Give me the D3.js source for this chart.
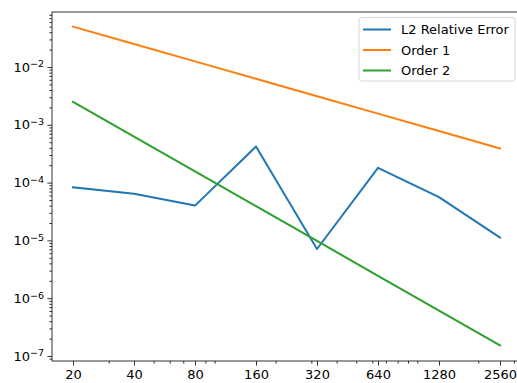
<!DOCTYPE html>
<html>
<head>
<meta charset="utf-8">
<script src="https://cdn.jsdelivr.net/npm/d3@7.9.0/dist/d3.min.js"></script>
<style>
  body { margin: 0; background: #fff; }
  svg { display: block; font-family: "DejaVu Sans", sans-serif; }
</style>
</head>
<body>
<svg id="chart" width="517" height="383"></svg>
<script>
// values
const gridSizes = [20, 40, 80, 160, 320, 640, 1280, 2560];
const l2Error = [8.3e-5, 6.4e-5, 4.0e-5, 4.2e-4, 7.1e-6, 1.8e-4, 5.6e-5, 1.12e-5];
const order1 = [0.05, 0.025, 0.0125, 0.00625, 0.003125, 0.0015625, 0.00078125, 0.000390625];
const order2 = [2.5e-3, 6.25e-4, 1.5625e-4, 3.90625e-5, 9.765625e-6, 2.44140625e-6, 6.1035e-7, 1.5259e-7];
const xTickLabels = ['20', '40', '80', '160', '320', '640', '1280', '2560'];
const yTickExps = [-7, -6, -5, -4, -3, -2];
const seriesNames = ['L2 Relative Error', 'Order 1', 'Order 2'];
const seriesColors = ['#1f77b4', '#ff7f0e', '#2ca02c'];

const axLeft = 52, axRight = 521, axTop = 12, axBottom = 361;
const svg = d3.select('#chart');

const x = d3.scaleLog().base(2).domain([15.75, 3250]).range([axLeft, axRight]);
const y = d3.scaleLog().domain([8.19e-8, 0.0895]).range([axBottom, axTop]);

// minor ticks, log10 style
let xMinor = [], yMinor = [];
for (let e = 1; e <= 3; e++) for (let m = 1; m <= 9; m++) {
    const v = m * Math.pow(10, e);
    if (v >= 15.75 && v <= 3250 && !gridSizes.includes(v)) xMinor.push(v);
}
for (let e = -8; e <= -2; e++) for (let m = 2; m <= 9; m++) {
    const v = m * Math.pow(10, e);
    if (v >= 8.19e-8 && v <= 0.0895) yMinor.push(v);
}

const xAxis = svg.append('g').attr('transform', `translate(0,${axBottom})`)
    .call(d3.axisBottom(x).tickValues(gridSizes).tickFormat((d, i) => xTickLabels[i])
        .tickSize(4.6).tickPadding(4));
svg.append('g').attr('transform', `translate(0,${axBottom})`)
    .call(d3.axisBottom(x).tickValues(xMinor).tickFormat('').tickSize(2.6))
    .call(g => g.select('.domain').remove());

const yAxis = svg.append('g').attr('transform', `translate(${axLeft},0)`)
    .call(d3.axisLeft(y).tickValues(yTickExps.map(e => Math.pow(10, e))).tickFormat('')
        .tickSize(4.6).tickPadding(4));
svg.append('g').attr('transform', `translate(${axLeft},0)`)
    .call(d3.axisLeft(y).tickValues(yMinor).tickFormat('').tickSize(2.6))
    .call(g => g.select('.domain').remove());

yAxis.selectAll('.tick').each(function(d, i) {
    const t = d3.select(this).select('text')
        .attr('x', -8).attr('dy', '0.32em').attr('text-anchor', 'end');
    t.append('tspan').text('10');
    t.append('tspan').attr('dy', '-0.45em').attr('font-size', '9.5px')
        .text('\u2212' + Math.abs(yTickExps[i]));
});

svg.selectAll('.tick text').attr('font-size', '13px').attr('fill', '#000')
    .attr('font-family', '"DejaVu Sans", sans-serif');
svg.selectAll('.tick line').attr('stroke', '#000').attr('stroke-width', 0.8);
svg.selectAll('.domain').remove();

// spines
svg.append('rect').attr('x', axLeft).attr('y', axTop)
    .attr('width', axRight - axLeft).attr('height', axBottom - axTop)
    .attr('fill', 'none').attr('stroke', '#000').attr('stroke-width', 0.8);

const allSeries = [l2Error, order1, order2];
const line = d3.line().x((d, i) => x(gridSizes[i])).y(d => y(d));
allSeries.forEach((s, k) => {
    svg.append('path').datum(s).attr('d', line)
        .attr('fill', 'none').attr('stroke', seriesColors[k])
        .attr('stroke-width', 2).attr('stroke-linejoin', 'round').attr('stroke-linecap', 'square');
});

// legend
const lg = svg.append('g');
lg.append('rect').attr('x', 359).attr('y', 17.5).attr('width', 156).attr('height', 63.5)
    .attr('rx', 2.6).attr('fill', 'white').attr('fill-opacity', 0.8)
    .attr('stroke', '#cccccc').attr('stroke-width', 0.8);
seriesNames.forEach((name, k) => {
    const yy = 29.5 + k * 20.5;
    lg.append('line').attr('x1', 363).attr('x2', 391).attr('y1', yy).attr('y2', yy)
        .attr('stroke', seriesColors[k]).attr('stroke-width', 2);
    lg.append('text').attr('x', 401).attr('y', yy).attr('dy', '0.35em')
        .attr('font-size', '13px').text(name);
});
</script>
</body>
</html>
